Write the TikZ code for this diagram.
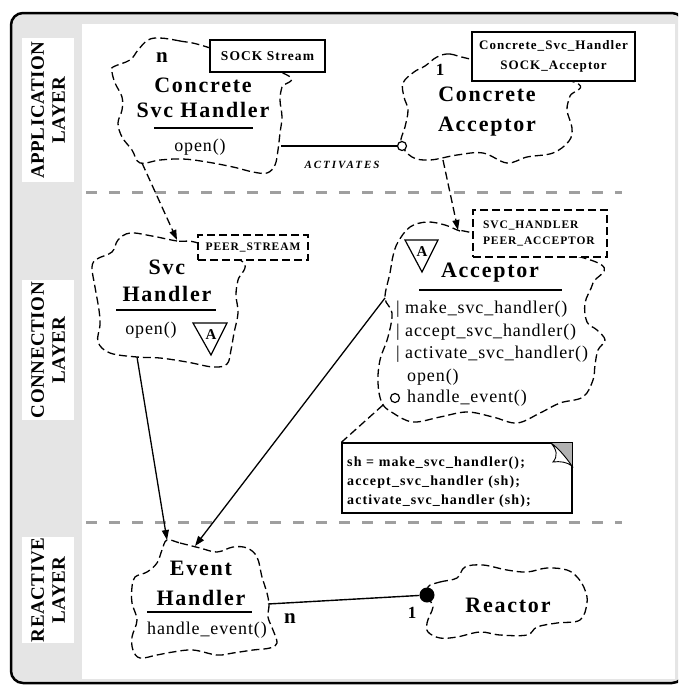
\documentclass[tikz,border=0pt]{standalone}
\usepackage{fontspec}
\setmainfont{Liberation Serif}
\newfontfamily\ttlfont[LetterSpace=8]{Liberation Serif}
\newfontfamily\mthfont[LetterSpace=5]{Liberation Serif}
\newfontfamily\lblfont[LetterSpace=3]{Liberation Serif}
\newfontfamily\actfont[LetterSpace=18]{Liberation Serif}
\usetikzlibrary{calc,positioning,arrows.meta}

\begin{document}
\begin{tikzpicture}[x=1pt, y=-1pt]
\tikzstyle{blob}=[draw, line width=1.3pt, dash pattern=on 8pt off 4pt]
\tikzstyle{ttl}=[inner sep=0pt, align=center, font=\ttlfont\bfseries\fontsize{22}{28}\selectfont]
\tikzstyle{mth}=[inner sep=0pt, anchor=west, font=\mthfont\fontsize{18}{21}\selectfont]
\tikzstyle{parm}=[draw, fill=white, line width=1.3pt, inner sep=0pt, align=center]
\tikzstyle{dparm}=[parm, dash pattern=on 8pt off 4pt]
\tikzstyle{lyr}=[fill=white, rotate=90, inner sep=0pt, align=center, minimum height=52pt, font=\lblfont\bfseries\fontsize{19}{21}\selectfont]
\tikzstyle{sep}=[draw=gray!75, line width=3pt, dash pattern=on 11pt off 12pt]
\tikzstyle{uses}=[-{Triangle[length=10pt,width=7pt]}, line width=1.3pt]
\tikzstyle{card}=[inner sep=0pt, font=\bfseries\fontsize{17}{17}\selectfont]

\useasboundingbox (0,0) rectangle (678,686);
\begin{scope}
\clip (0,0) rectangle (678,686);
\draw[line width=2.5pt, rounded corners=12pt, fill=gray!20] (11,13) rectangle (684,683);
\end{scope}
\fill[white] (82,24) rectangle (675,679);

% layers
\node[lyr, minimum width=144pt] (app) at (48,110) {APPLICATION\\LAYER};
\node[lyr, minimum width=140pt] (con) at (48,350) {CONNECTION\\LAYER};
\node[lyr, minimum width=106pt] (rea) at (48,590) {REACTIVE\\LAYER};
\draw[sep] (86,192) -- (622,192);
\draw[sep] (86,522) -- (622,522);

% clouds
\draw[blob] plot[smooth cycle, tension=0.6] coordinates {(207,47) (180,41) (160,38) (148,40) (138,50) (130,60) (113,67) (112,72) (115,83) (122,97) (122,110) (118,123) (122,137) (132,150) (140,163) (160,160) (183,159) (207,162) (233,167) (253,172) (267,173) (275,165) (278,150) (280,133) (282,117) (280,100) (282,87) (287,75)};
\draw[blob] plot[smooth cycle, tension=0.6] coordinates {(470,59) (450,54) (437,57) (425,66) (414,72) (403,83) (404,97) (408,110) (405,127) (401,143) (412,157) (430,160) (457,155) (483,153) (507,163) (527,157) (553,153) (569,141) (572,128) (567,110) (570,96) (574,82)};
\draw[blob] plot[smooth cycle, tension=0.6] coordinates {(198,243) (177,241) (152,236) (130,233) (118,240) (112,252) (97,259) (92,267) (95,287) (99,310) (100,325) (98,342) (110,353) (137,357) (160,358) (187,362) (213,367) (227,364) (231,350) (234,333) (238,313) (236,295) (238,280) (243,262)};
\draw[blob] plot[smooth cycle, tension=0.6] coordinates {(473,233) (460,231) (445,225) (427,222) (410,227) (398,242) (393,256) (390,273) (385,298) (392,313) (388,337) (380,360) (378,383) (382,403) (393,413) (413,422) (440,417) (467,412) (493,417) (517,423) (540,413) (560,403) (583,397) (593,380) (595,365) (598,350) (605,340) (597,330) (587,322) (585,303) (593,283) (596,262)};
\draw[blob] plot[smooth cycle, tension=0.6] coordinates {(167,540) (180,543) (200,548) (217,552) (233,547) (247,548) (257,557) (262,577) (267,593) (269,605) (268,617) (273,630) (277,643) (270,648) (253,650) (233,653) (217,655) (193,650) (173,652) (157,655) (140,658) (133,650) (132,637) (137,620) (132,603) (132,587) (135,577) (147,572) (157,563) (162,550)};
\draw[blob] plot[smooth cycle, tension=0.6] coordinates {(428,587) (440,582) (457,578) (465,567) (483,565) (507,570) (527,572) (547,568) (567,570) (578,578) (585,590) (587,603) (580,620) (557,623) (537,627) (527,635) (500,635) (480,632) (457,637) (440,638) (428,632) (427,623) (430,615) (433,607) (430,600)};

% parameter boxes
\node[parm, minimum width=115pt, minimum height=32pt, font=\ttlfont\bfseries\fontsize{13.5}{16}\selectfont] (sock) at (267.5,56) {SOCK Stream};
\node[parm, minimum width=163pt, minimum height=49pt, font=\ttlfont\bfseries\fontsize{13}{20}\selectfont] (cacc) at (553.5,56.5) {Concrete\_Svc\_Handler\\SOCK\_Acceptor};
\node[dparm, minimum width=110pt, minimum height=25pt, font=\ttlfont\bfseries\fontsize{11.5}{14}\selectfont] (peer) at (253,247.5) {PEER\_STREAM};
\node[dparm, minimum width=134pt, minimum height=47pt, align=left, text width=114pt, font=\ttlfont\bfseries\fontsize{11.5}{16}\selectfont] (svch) at (540,233.5) {SVC\_HANDLER\\PEER\_ACCEPTOR};

% titles
\node[ttl, font=\ttlfont\bfseries\fontsize{22}{25}\selectfont] (csh) at (203,97.5) {Concrete\\Svc Handler};
\node[ttl, font=\ttlfont\bfseries\fontsize{22}{30}\selectfont] (ca) at (487,112) {Concrete\\Acceptor};
\node[ttl, font=\ttlfont\bfseries\fontsize{22}{27}\selectfont] (sh) at (167,281) {Svc\\Handler};
\node[ttl] (acc) at (490,273) {Acceptor};
\node[ttl, font=\ttlfont\bfseries\fontsize{22}{30}\selectfont] (eh) at (201,583) {Event\\Handler};
\node[ttl] (rct) at (508,605) {Reactor};
\draw[line width=1.6pt] (154,128) -- (253,128);
\draw[line width=1.6pt] (116,310) -- (216,310);
\draw[line width=1.6pt] (419,290) -- (562,290);
\draw[line width=1.6pt] (147,612) -- (252,612);

% methods
\node[mth, anchor=center] (cshopen) at (200,147) {open()};
\node[mth, anchor=center] (shopen) at (151,330) {open()};
\node[mth] (mk) at (396,309) {| make\_svc\_handler()};
\node[mth] (ac) at (396,332) {| accept\_svc\_handler()};
\node[mth] (av) at (396,354) {| activate\_svc\_handler()};
\node[mth] (op) at (407,377) {open()};
\node[mth] (he) at (407,398) {handle\_event()};
\node[mth, anchor=center] (eh-he) at (207,630) {handle\_event()};

% abstract markers
\draw[line width=1.2pt] (193,323) -- (227,323) -- (211,355) -- cycle;
\node[inner sep=0pt, font=\bfseries\fontsize{15}{15}\selectfont] (sha) at (211,335) {A};
\draw[line width=1.2pt] (405,240) -- (438,240) -- (422,272) -- cycle;
\node[inner sep=0pt, font=\bfseries\fontsize{15}{15}\selectfont] (acca) at (422,252) {A};

% cardinalities
\node[card, font=\bfseries\fontsize{21}{21}\selectfont] (n1) at (162,58) {n};
\node[card] (c1) at (440,70) {1};
\node[card, font=\bfseries\fontsize{21}{21}\selectfont] (n2) at (290,619) {n};
\node[card] (c2) at (412,613) {1};

% connectors
\coordinate (csh-b) at (142,163);
\coordinate (sh-t) at (177,240);
\coordinate (ca-b) at (443,160);
\coordinate (acc-t) at (458,230);
\coordinate (csh-r) at (281,146);
\coordinate (sh-b) at (137,357);
\coordinate (eh-t1) at (167,540);
\coordinate (acc-l) at (385,298);
\coordinate (eh-t2) at (195,546);
\coordinate (eh-r) at (268,604);
\coordinate (acc-n) at (383,405);
\node[draw, circle, fill=white, line width=1.2pt, inner sep=0pt, minimum size=9pt] (act) at (402,146) {};
\node[draw, circle, fill=white, line width=1.2pt, inner sep=0pt, minimum size=9pt] (hev) at (395,398) {};
\node[circle, fill=black, inner sep=0pt, minimum size=15pt] (dot) at (427,595) {};

\draw[uses, dash pattern=on 8pt off 4pt] (csh-b) -- (sh-t);
\draw[uses, dash pattern=on 8pt off 4pt] (ca-b) -- (acc-t);
\draw[line width=1.3pt] (csh-r) -- (act);
\node[inner sep=0pt, font=\actfont\bfseries\itshape\fontsize{11}{11}\selectfont] (actl) at (342,165) {ACTIVATES};
\draw[uses] (sh-b) -- (eh-t1);
\draw[uses] (acc-l) -- (eh-t2);
\draw[line width=1.4pt] (eh-r) -- (dot);

% note
\node[draw, fill=white, line width=1.3pt, minimum width=230pt, minimum height=70pt, inner sep=0pt] (note) at (457,478) {};
\fill[gray!60] (551,443) -- (572,443) -- (572,466) .. controls (565,456) and (558,448) .. (551,443);
\draw[line width=0.9pt, fill=white] (551,443) .. controls (557,450) and (558,456) .. (553,462) .. controls (560,461) and (567,462) .. (572,466) .. controls (565,456) and (558,448) .. (551,443);
\draw[line width=1.3pt] (note.north west) -- (note.north east) -- (note.south east);
\node[inner sep=0pt, anchor=west, align=left, font=\ttlfont\bfseries\fontsize{14}{19}\selectfont] (notetxt) at (347,482) {sh = make\_svc\_handler();\\accept\_svc\_handler (sh);\\activate\_svc\_handler (sh);};
\draw[line width=1.3pt, dash pattern=on 8pt off 4pt] (acc-n) -- (note.north west);
\end{tikzpicture}
\end{document}
